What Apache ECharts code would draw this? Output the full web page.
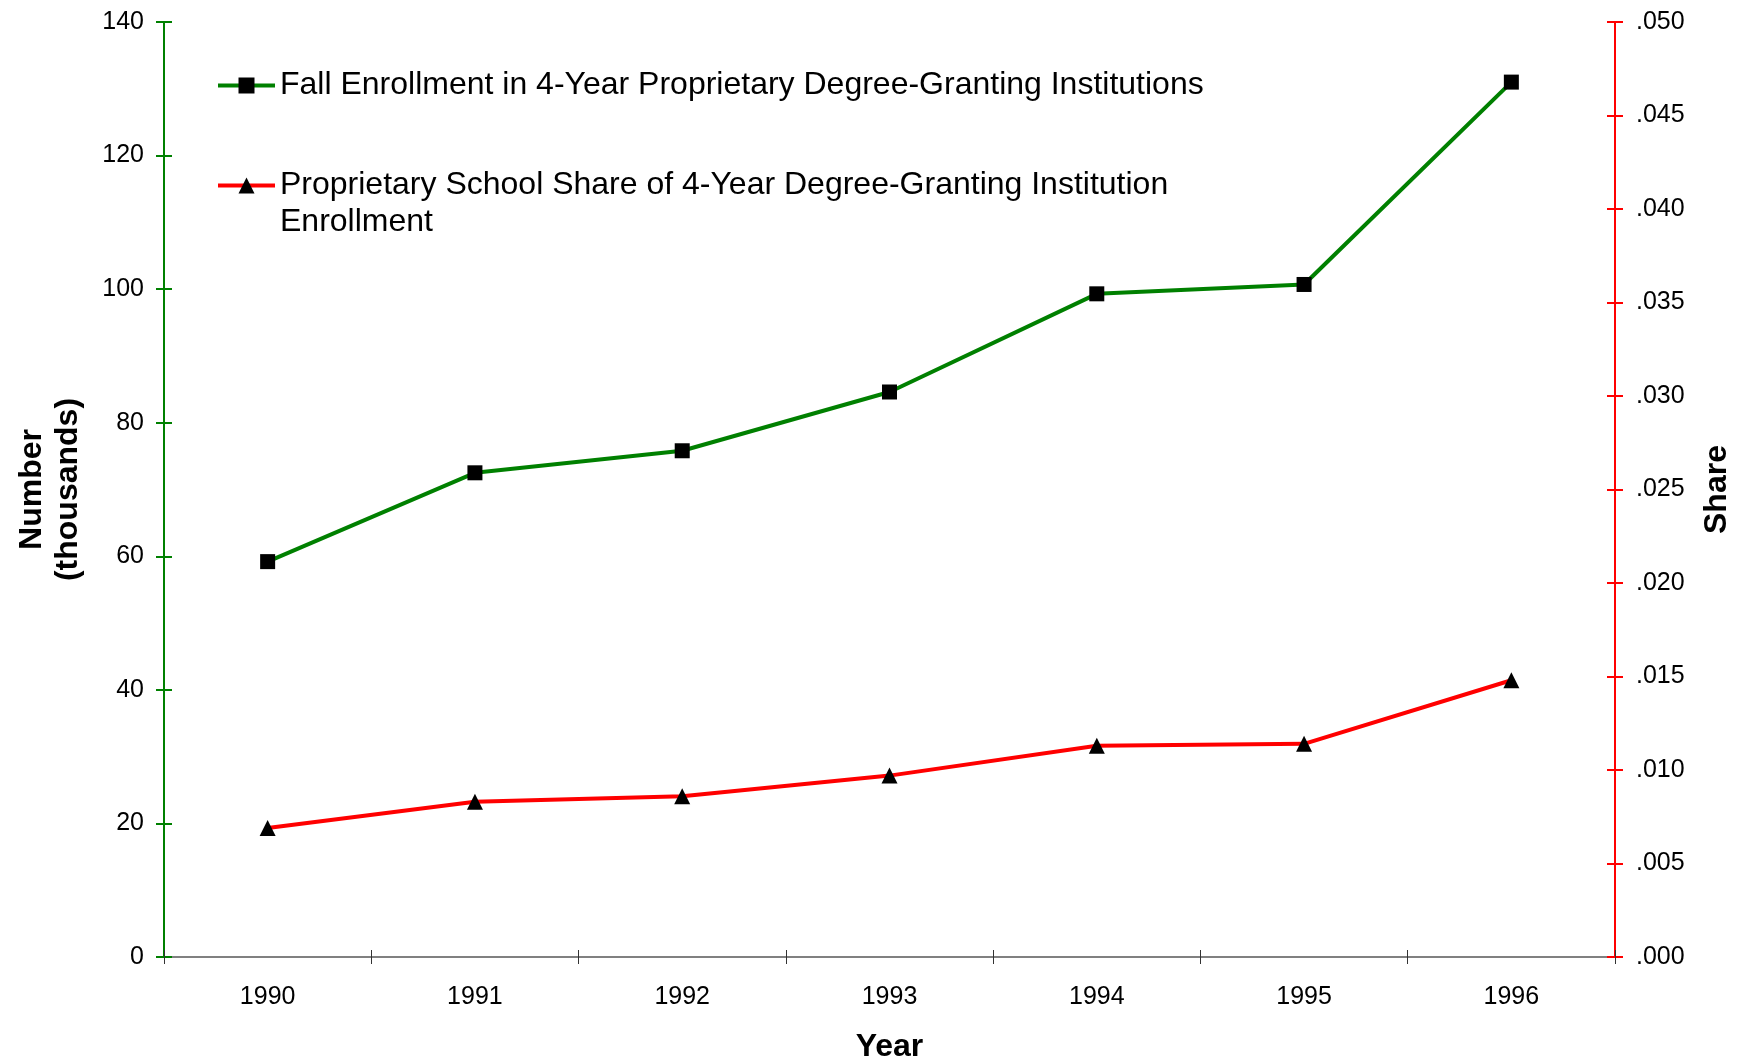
<!DOCTYPE html>
<html>
<head>
<meta charset="utf-8">
<script src="https://cdn.jsdelivr.net/npm/echarts@6/dist/echarts.min.js"></script>
<style>
  html, body { margin: 0; padding: 0; background: #ffffff; }
  #chart { width: 1740px; height: 1062px; }
</style>
</head>
<body>
<div id="chart"></div>
<script>
const years = ['1990', '1991', '1992', '1993', '1994', '1995', '1996'];
const enrollment = [59.2, 72.5, 75.8, 84.6, 99.3, 100.7, 131.0];
const share = [0.0069, 0.0083, 0.0086, 0.0097, 0.0113, 0.0114, 0.0148];
const enrollmentName = 'Fall Enrollment in 4-Year Proprietary Degree-Granting Institutions';
const shareName = 'Proprietary School Share of 4-Year Degree-Granting Institution Enrollment';

const FONT = '"Liberation Sans", Arial, sans-serif';
const chart = echarts.init(document.getElementById('chart'), null, { renderer: 'canvas' });

const leftAxisBase = {
  type: 'value', min: 0, max: 140, interval: 20, position: 'left',
  splitLine: { show: false }
};
const rightAxisBase = {
  type: 'value', min: 0, max: 0.05, interval: 0.005, position: 'right',
  splitLine: { show: false }
};

chart.setOption({
  animation: false,
  backgroundColor: '#ffffff',
  textStyle: { fontFamily: FONT },
  grid: { left: 164, right: 125, top: 22, bottom: 105, containLabel: false, outerBoundsMode: 'none' },
  legend: {
    orient: 'vertical',
    left: 216,
    top: 67,
    padding: 0,
    itemGap: 26,
    itemWidth: 57,
    itemHeight: 20,
    lineStyle: { width: 4 },
    data: [enrollmentName, shareName],
    textStyle: { fontFamily: FONT, fontSize: 32, color: '#000000', lineHeight: 37 },
    formatter: function (name) {
      if (name === shareName) {
        return '\nProprietary School Share of 4-Year Degree-Granting Institution\nEnrollment';
      }
      return name;
    }
  },
  xAxis: [
    {
      type: 'category', data: years, position: 'bottom', boundaryGap: true,
      name: 'Year', nameLocation: 'middle', nameGap: 74,
      nameTextStyle: { fontFamily: FONT, fontSize: 32, fontWeight: 'bold', color: '#000000' },
      axisLine: { show: true, lineStyle: { color: '#808080', width: 2 } },
      axisTick: { show: true, length: 7, lineStyle: { color: '#333333', width: 1 } },
      axisLabel: { fontFamily: FONT, fontSize: 25, color: '#000000', margin: 28 },
      splitLine: { show: false }
    },
    {
      type: 'category', data: years, position: 'bottom', boundaryGap: true,
      axisLine: { show: false },
      axisTick: { show: true, inside: true, length: 7, lineStyle: { color: '#333333', width: 1 } },
      axisLabel: { show: false },
      splitLine: { show: false }
    }
  ],
  yAxis: [
    Object.assign({}, leftAxisBase, {
      name: 'Number\n(thousands)', nameLocation: 'middle', nameGap: 78, nameRotate: 90,
      nameTextStyle: { fontFamily: FONT, fontSize: 32, fontWeight: 'bold', color: '#000000', lineHeight: 36 },
      axisLine: { show: true, lineStyle: { color: '#008000', width: 2 } },
      axisTick: { show: true, length: 8, lineStyle: { color: '#008000', width: 2 } },
      axisLabel: { fontFamily: FONT, fontSize: 25, color: '#000000', margin: 20 }
    }),
    Object.assign({}, rightAxisBase, {
      name: 'Share', nameLocation: 'middle', nameGap: 86, nameRotate: 90,
      nameTextStyle: { fontFamily: FONT, fontSize: 32, fontWeight: 'bold', color: '#000000' },
      axisLine: { show: true, lineStyle: { color: '#ff0000', width: 2 } },
      axisTick: { show: true, length: 8, lineStyle: { color: '#ff0000', width: 2 } },
      axisLabel: {
        fontFamily: FONT, fontSize: 25, color: '#000000', margin: 21,
        formatter: function (v) { return v.toFixed(3).replace(/^0/, ''); }
      }
    }),
    Object.assign({}, leftAxisBase, {
      axisLine: { show: false },
      axisTick: { show: true, inside: true, length: 8, lineStyle: { color: '#008000', width: 2 } },
      axisLabel: { show: false }
    }),
    Object.assign({}, rightAxisBase, {
      axisLine: { show: false },
      axisTick: { show: true, inside: true, length: 8, lineStyle: { color: '#ff0000', width: 2 } },
      axisLabel: { show: false }
    })
  ],
  series: [
    {
      name: enrollmentName, type: 'line', xAxisIndex: 0, yAxisIndex: 0,
      data: enrollment,
      symbol: 'rect', symbolSize: 15,
      lineStyle: { color: '#008000', width: 4 },
      itemStyle: { color: '#000000' },
      z: 3
    },
    {
      name: shareName, type: 'line', xAxisIndex: 0, yAxisIndex: 1,
      data: share,
      symbol: 'triangle', symbolSize: 16,
      lineStyle: { color: '#ff0000', width: 4 },
      itemStyle: { color: '#000000' },
      z: 3
    }
  ]
});
</script>
</body>
</html>
